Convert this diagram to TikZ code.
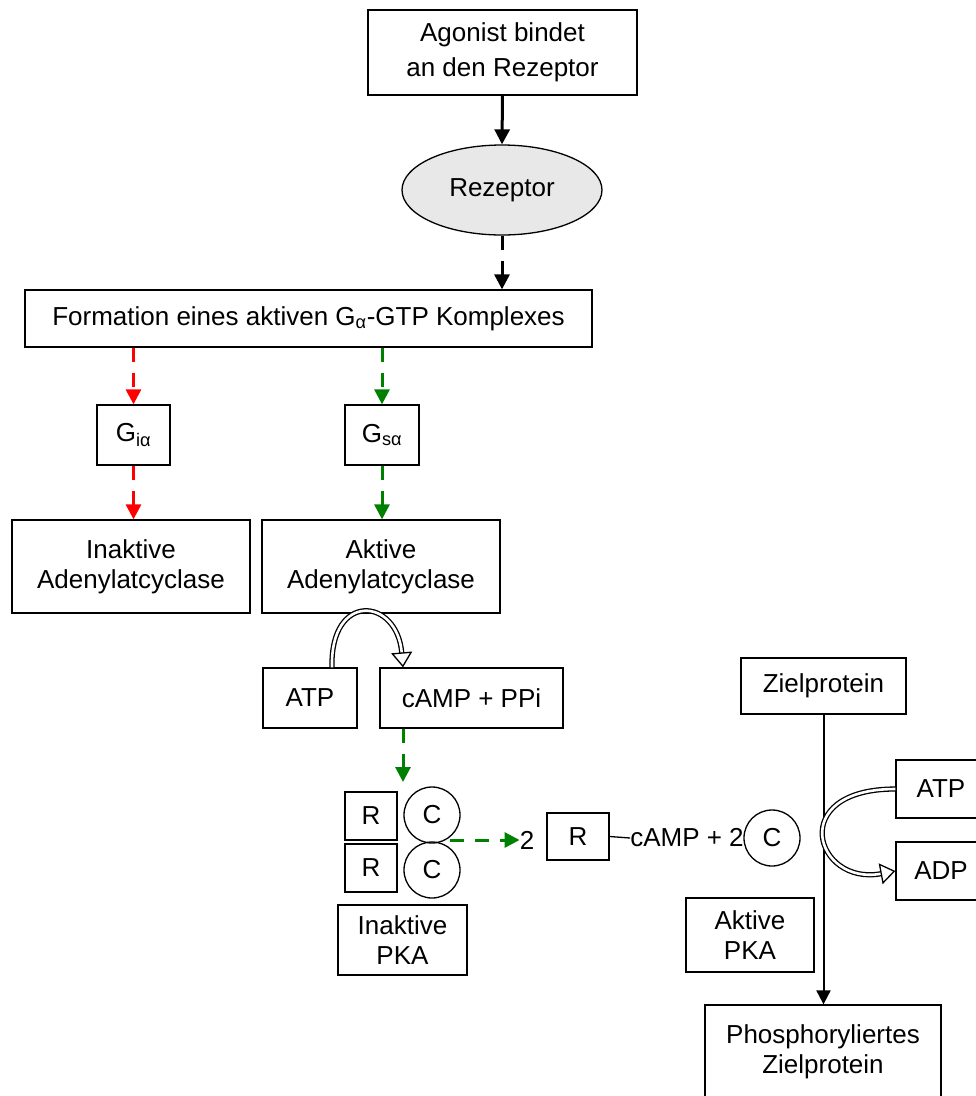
\documentclass[tikz,border=0pt]{standalone}
\usepackage{fontspec}
\setmainfont{Liberation Sans}
\usetikzlibrary{arrows.meta,shapes.geometric,calc}
\definecolor{dgreen}{RGB}{0,128,0}
\definecolor{rgray}{RGB}{232,232,232}
\begin{document}
\begin{tikzpicture}[x=1pt,y=-1pt,
  fnt/.style={font=\fontsize{26}{30}\selectfont},
  box/.style={draw, line width=1.3pt, inner sep=0pt, align=center, fnt},
  circ/.style={draw, circle, line width=1.3pt, inner sep=0pt, minimum size=56pt, fnt},
  lbl/.style={inner sep=0pt, fnt},
  thickarrow/.style={line width=3pt, -{Triangle[length=15pt,width=15pt]}},
  dasharrow/.style={thickarrow, dash pattern=on 14pt off 11pt},
  dbl/.style={double=white, double distance=2.6pt, line width=1.3pt,
    -{Triangle[open, length=15pt, width=21pt]}},
]
\useasboundingbox (0,0) rectangle (976,1096);
\clip (0,0) rectangle (976,1096);

\node[box, minimum width=269pt, minimum height=85pt, font=\fontsize{26}{35}\selectfont] (agon) at (502.5,52.5) {Agonist bindet\\an den Rezeptor};
\node[draw, ellipse, fill=rgray, line width=1.3pt, inner sep=0pt, minimum width=200pt, minimum height=90pt, fnt] (rez) at (502,190) {Rezeptor};
\node[box, minimum width=567pt, minimum height=57pt] (form) at (308.5,318.5) {Formation eines aktiven G\textsubscript{α}-GTP Komplexes};
\node[box, minimum width=73pt, minimum height=60pt] (gi) at (133.5,435) {G\textsubscript{iα}};
\node[box, minimum width=74pt, minimum height=60pt] (gs) at (382,435) {G\textsubscript{sα}};
\node[box, minimum width=238pt, minimum height=93pt] (inak) at (131,566.5) {Inaktive\\Adenylatcyclase};
\node[box, minimum width=238pt, minimum height=93pt] (akt) at (381,566.5) {Aktive\\Adenylatcyclase};
\node[box, minimum width=94pt, minimum height=60pt] (atpa) at (310,698) {ATP};
\node[box, minimum width=183pt, minimum height=60pt] (camp) at (471.5,698) {cAMP + PPi};
\node[box, minimum width=52pt, minimum height=48pt] (ra) at (371,816) {R};
\node[box, minimum width=52pt, minimum height=48pt] (rb) at (371,868) {R};
\node[circ] (ca) at (432,815) {C};
\node[circ] (cb) at (432,870) {C};
\node[box, minimum width=129pt, minimum height=70pt] (pki) at (402.5,940) {Inaktive\\PKA};
\node[lbl] (two) at (527,840) {2};
\node[box, minimum width=62pt, minimum height=47pt] (rc) at (578,836.5) {R};
\node[lbl] (campt) at (687,838) {cAMP + 2};
\node[circ] (cc) at (772,838) {C};
\node[box, minimum width=165pt, minimum height=56pt] (ziel) at (823.5,686) {Zielprotein};
\node[box, minimum width=236pt, minimum height=93pt] (phos) at (823,1051.5) {Phosphoryliertes\\Zielprotein};
\node[box, minimum width=90pt, minimum height=58pt] (atpb) at (941,789) {ATP};
\node[box, minimum width=90pt, minimum height=58pt] (adp) at (941,871) {ADP};
\node[box, minimum width=128pt, minimum height=74pt] (apka) at (750,935) {Aktive\\PKA};

\coordinate (pkain) at (403,782);
\coordinate (cstart) at (450,840);

\draw[thickarrow] (agon.south) -- (rez.north);
\draw[dasharrow] (rez.south) -- (form.north -| rez.south);
\draw[dasharrow, red] (form.south -| gi.north) -- (gi.north);
\draw[dasharrow, red] (gi.south) -- (gi.south |- inak.north);
\draw[dasharrow, dgreen] (form.south -| gs.north) -- (gs.north);
\draw[dasharrow, dgreen] (gs.south) -- (gs.south |- akt.north);
\draw[dbl] ([xshift=22pt]atpa.north) .. controls +(-2,-76) and +(-6,-70) .. ([xshift=-68.5pt]camp.north);
\draw[dasharrow, dgreen] ([xshift=-68.5pt]camp.south) -- (pkain);
\draw[dasharrow, dgreen] (cstart) -- (cstart -| two.west);
\draw[line width=1.3pt] (rc.east) -- (campt.west);
\draw[line width=2pt, -{Triangle[length=14pt,width=14pt]}] (ziel.south) -- (ziel.south |- phos.north);
\draw[dbl] (atpb.west) .. controls +(-110,0) and +(-80,15) .. (adp.west);
\end{tikzpicture}
\end{document}
